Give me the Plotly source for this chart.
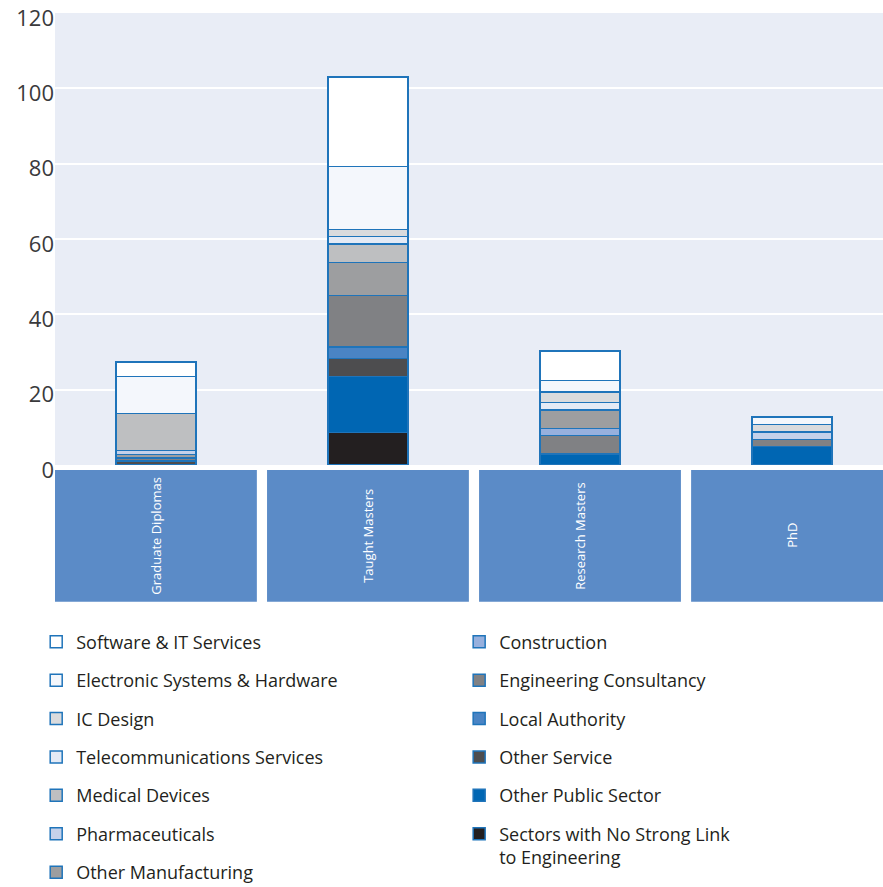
import plotly.graph_objects as go

# Programme types along the x axis
categories = ["Graduate Diplomas", "Taught Masters", "Research Masters", "PhD"]

# Sector values per programme type, listed from the bottom of each stack upwards
no_strong_link = [0, 8.6, 0, 0]
other_public = [0, 14.9, 2.9, 4.9]
other_service = [1.0, 4.8, 0, 0]
local_authority = [0, 3.0, 0, 0]
eng_consultancy = [0.9, 13.7, 4.9, 1.9]
construction = [0, 0, 1.9, 0]
other_manufacturing = [0.9, 8.8, 4.9, 0]
pharmaceuticals = [1.1, 0, 0, 2.0]
medical_devices = [9.8, 4.9, 0, 0]
telecoms = [0, 2.0, 2.0, 0]
ic_design = [0, 1.9, 2.8, 1.9]
electronic = [9.8, 16.6, 3.1, 2.0]
software = [3.9, 23.8, 7.8, 0]

y_ticks = [0, 20, 40, 60, 80, 100, 120]

# (label, values, fill colour, legend) in stacking order
series = [
    ("Sectors with No Strong Link<br>to Engineering", no_strong_link, "#231F20", "legend2"),
    ("Other Public Sector", other_public, "#0066B3", "legend2"),
    ("Other Service", other_service, "#4D4D4F", "legend2"),
    ("Local Authority", local_authority, "#4A84C4", "legend2"),
    ("Engineering Consultancy", eng_consultancy, "#808184", "legend2"),
    ("Construction", construction, "#97B0DD", "legend2"),
    ("Other Manufacturing", other_manufacturing, "#9D9EA0", "legend"),
    ("Pharmaceuticals", pharmaceuticals, "#C4D1EA", "legend"),
    ("Medical Devices", medical_devices, "#BEBFC1", "legend"),
    ("Telecommunications Services", telecoms, "#E4EAF5", "legend"),
    ("IC Design", ic_design, "#DADBDD", "legend"),
    ("Electronic Systems & Hardware", electronic, "#F4F7FC", "legend"),
    ("Software & IT Services", software, "#FFFFFF", "legend"),
]

FONT = "Open Sans"
x_idx = list(range(len(categories)))
n = len(series)

fig = go.Figure()
for k, (name, vals, color, leg) in enumerate(series):
    fig.add_trace(go.Bar(
        x=x_idx, y=vals, name=name, width=0.377,
        marker=dict(color=color, line=dict(color="#1F74BA", width=1.5)),
        legend=leg, legendgroup=name, legendrank=n - k,
    ))

# Blue category panels with rotated labels under the plot
for i, cat in enumerate(categories):
    fig.add_shape(type="rect", xref="x", yref="paper",
                  x0=i - 0.476, x1=i + 0.476, y0=-0.3024, y1=-0.011,
                  fillcolor="#5B8BC7", line=dict(width=0), layer="above")
    fig.add_annotation(x=i, xref="x", y=-0.1567, yref="paper", text=cat,
                       textangle=-90, showarrow=False,
                       xanchor="center", yanchor="middle",
                       font=dict(family=FONT, size=13, color="#FFFFFF"))

legend_style = dict(
    orientation="v", traceorder="grouped", tracegroupgap=12,
    font=dict(family=FONT, size=18, color="#231F20"),
    bgcolor="rgba(0,0,0,0)", xref="container", yref="container",
    xanchor="left", yanchor="top",
)

fig.update_layout(
    width=883, height=887,
    margin=dict(l=55, r=0, t=13, b=422, autoexpand=False),
    barmode="stack",
    plot_bgcolor="#E9EDF6", paper_bgcolor="#FFFFFF",
    font=dict(family=FONT, color="#231F20"),
    xaxis=dict(range=[-0.476, 3.429], showticklabels=False, showgrid=False,
               zeroline=False, ticks=""),
    yaxis=dict(range=[0, 120.02], tickvals=y_ticks, showgrid=True,
               gridcolor="#FFFFFF", gridwidth=2, zeroline=False,
               ticklabeloverflow="allow", ticklabelshift=5,
               tickfont=dict(family=FONT, size=22, color="#3A3A3C"), ticks=""),
    legend=dict(x=0.041, y=0.297, **legend_style),
    legend2=dict(x=0.52, y=0.297, valign="top", **legend_style),
    showlegend=True,
)

fig.write_html("out.html")
